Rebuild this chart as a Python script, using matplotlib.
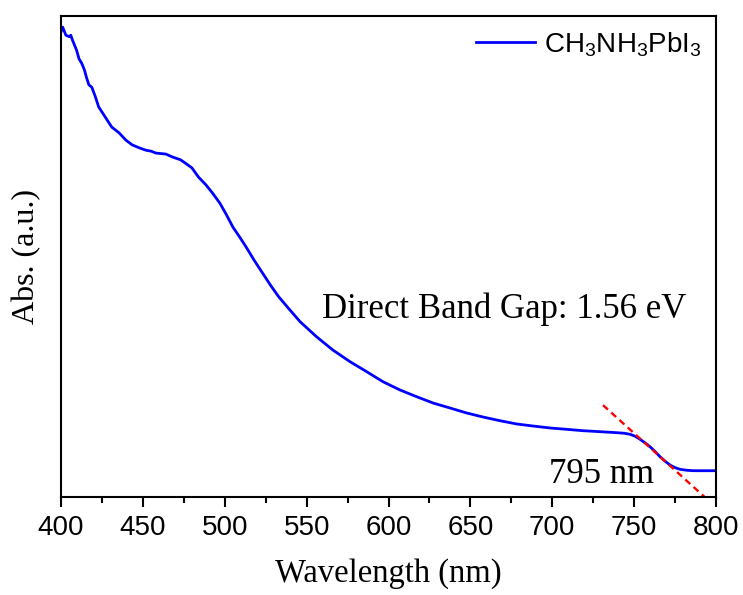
import matplotlib
matplotlib.use('Agg')
import matplotlib.pyplot as plt

# absorption spectrum (arbitrary units)
wavelength = [400, 401, 403, 405, 406, 407, 409.5, 411, 412.6, 414.3, 415.5, 417, 418.8, 421, 423,
              427, 431, 435.5, 439.6, 443.5, 447.7, 451.8, 455, 458, 461, 464, 468, 473, 476, 480,
              484, 488.5, 492.5, 497, 501, 505, 509, 513, 518, 523, 528, 533, 539, 546, 556, 566,
              576.5, 586.7, 596.6, 607, 617.2, 627.2, 637.6, 647.8, 657.7, 668.1, 678.3, 688.2,
              698.6, 708.8, 718.8, 729.2, 739.4, 744, 747.5, 750.5, 753.6, 756.7, 759.7, 762.8,
              765.8, 768.9, 771.9, 775, 778, 782, 786, 793, 800]
absorbance = [0.967, 0.977, 0.960, 0.957, 0.960, 0.950, 0.929, 0.911, 0.902, 0.888, 0.873, 0.857, 0.852,
              0.832, 0.811, 0.790, 0.769, 0.757, 0.742, 0.732, 0.726, 0.721, 0.719, 0.715, 0.714,
              0.713, 0.707, 0.701, 0.694, 0.684, 0.665, 0.649, 0.632, 0.611, 0.587, 0.561, 0.541,
              0.520, 0.492, 0.466, 0.440, 0.416, 0.392, 0.3645, 0.3333, 0.3056, 0.2813, 0.2605,
              0.2397, 0.2225, 0.2085, 0.1954, 0.1850, 0.1746, 0.1663, 0.1586, 0.1518, 0.1476,
              0.1435, 0.1407, 0.1378, 0.1358, 0.1337, 0.1325, 0.1304, 0.1265, 0.1200, 0.1125,
              0.1046, 0.0945, 0.0838, 0.0745, 0.0665, 0.0610, 0.0576, 0.0556, 0.0547, 0.0546, 0.0547]

# tangent used for the band-edge estimate
tangent_x = [731, 795]
tangent_y = [0.191, -0.006]

xticks = [400, 450, 500, 550, 600, 650, 700, 750, 800]

plt.rcParams['font.family'] = 'Liberation Sans'
plt.rcParams['mathtext.fontset'] = 'custom'
plt.rcParams['mathtext.rm'] = 'Liberation Sans'

fig = plt.figure(figsize=(7.43, 5.95), dpi=100)
ax = fig.add_axes([61 / 743, 1 - 497 / 595, 655 / 743, 481 / 595])

ax.plot(wavelength, absorbance, color='#0000ff', lw=2,
        label=r'CH$_\mathregular{3}$NH$_\mathregular{3}$PbI$_\mathregular{3}$')
ax.plot(tangent_x, tangent_y, color='#ff0000', lw=1.7, linestyle=(0, (2.8, 1.9)))

ax.set_xlim(400, 800)
ax.set_ylim(0, 1)
ax.set_xticks(xticks)
ax.set_xticks(range(425, 800, 50), minor=True)
ax.set_yticks([])
ax.tick_params(axis='x', which='major', direction='out', length=7, width=1.5, labelsize=20, pad=6)
ax.tick_params(axis='x', which='minor', direction='out', length=4, width=1.5)
for s in ax.spines.values():
    s.set_linewidth(1.5)

ax.set_xlabel('Wavelength (nm)', family='Liberation Serif', fontsize=23.5, labelpad=12)
ax.set_ylabel('Abs. (a.u.)', family='Liberation Serif', fontsize=23, labelpad=14)

ax.text(0.398, 0.372, 'Direct Band Gap: 1.56 eV', transform=ax.transAxes,
        family='Liberation Serif', fontsize=25, va='baseline', ha='left')
ax.text(0.745, 0.029, '795 nm', transform=ax.transAxes,
        family='Liberation Serif', fontsize=25, va='baseline', ha='left')

ax.legend(loc='upper right', frameon=False, fontsize=20, handlelength=2.1,
          handletextpad=0.35, borderpad=0.2, borderaxespad=0.3)

fig.savefig('out.png', dpi=100)
